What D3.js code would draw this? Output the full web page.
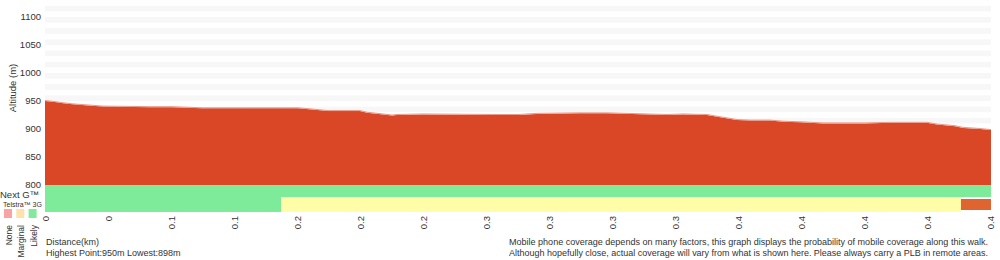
<!DOCTYPE html>
<html>
<head>
<meta charset="utf-8">
<script src="https://cdn.jsdelivr.net/npm/d3@7"></script>
<style>
body { margin: 0; background: #fff; }
svg { display: block; font-family: "Liberation Sans", Arial, sans-serif; }
text { fill: #333; }
</style>
</head>
<body>
<svg id="chart" width="1000" height="260"></svg>
<script>
// elevation profile, distance in km / altitude in m
var distKm = [0, 0.0048, 0.0086, 0.0133, 0.0205, 0.0276, 0.0499, 0.0604, 0.0747, 0.0942,
    0.1127, 0.1203, 0.1294, 0.1346, 0.1498, 0.1532, 0.1608, 0.1651, 0.1674, 0.1798,
    0.2126, 0.2250, 0.2340, 0.2545, 0.2673, 0.2959, 0.3035, 0.3149, 0.3211, 0.3292,
    0.3354, 0.3449, 0.3511, 0.3591, 0.3701, 0.3901, 0.4020, 0.4195, 0.4243, 0.4329,
    0.4367, 0.4448, 0.45];
var altM = [950, 948, 946, 944, 942, 940, 939, 939, 937, 937,
    937, 937, 934, 932, 932, 929, 926, 924, 925, 926,
    925, 925, 927, 928, 928, 925, 926, 925, 921, 916,
    915, 915, 913, 912, 910, 910, 911, 911, 908, 905,
    902, 900, 898];

var totalKm = 0.45;
var xTickLabels = ['0', '0', '0.1', '0.1', '0.2', '0.2', '0.2', '0.3', '0.3', '0.3', '0.3', '0.4', '0.4', '0.4', '0.4', '0.4'];
var yTicks = [800, 850, 900, 950, 1000, 1050, 1100];

// coverage rows: [from km, to km, level]
var nextG = [[0, 0.45, 'likely']];
var telstra3G = [[0, 0.1123, 'likely'], [0.1123, 0.4357, 'marginal'], [0.4357, 0.45, 'none']];

var levels = ['none', 'marginal', 'likely'];
var levelNames = ['None', 'Marginal', 'Likely'];
var barColor = { none: '#e0642f', marginal: '#fffda8', likely: '#7eeb9b' };
var legendColor = { none: '#f9a3a3', marginal: '#fde2ab', likely: '#83e99c' };

var notes = [
    'Mobile phone coverage depends on many factors, this graph displays the probability of mobile coverage along this walk.',
    'Although hopefully close, actual coverage will vary from what is shown here. Please always carry a PLB in remote areas.'
];

var svg = d3.select('#chart');

var x = d3.scaleLinear().domain([0, totalKm]).range([45, 991]);
var y = d3.scaleLinear().domain([800, 1100]).range([185, 17]);
var xt = d3.scalePoint().domain(d3.range(xTickLabels.length)).range([45, 990]);

// striped background
var stripes = d3.range(810, 1140, 20);
svg.append('g').selectAll('rect').data(stripes).enter().append('rect')
    .attr('x', x(0))
    .attr('width', x(totalKm) - x(0))
    .attr('y', function(v) { return Math.max(0, y(v + 10)); })
    .attr('height', function(v) { return y(v) - Math.max(0, y(v + 10)); })
    .attr('fill', '#f7f7f7');

var pts = distKm.map(function(d, i) { return [d, altM[i]]; });

svg.append('path').datum(pts)
    .attr('fill', '#d94727')
    .attr('d', d3.area()
        .x(function(d) { return x(d[0]); })
        .y0(y(800))
        .y1(function(d) { return y(d[1]); }));

svg.append('path').datum(pts)
    .attr('fill', 'none')
    .attr('stroke', '#e99a88')
    .attr('stroke-width', 1)
    .attr('d', d3.line()
        .x(function(d) { return x(d[0]); })
        .y(function(d) { return y(d[1]) - 0.5; }));

// coverage bars
function row(data, y0, y1) {
    svg.append('g').selectAll('rect').data(data).enter().append('rect')
        .attr('x', function(d) { return x(d[0]); })
        .attr('width', function(d) { return x(d[1]) - x(d[0]); })
        .attr('y', function(d) { return d[2] == 'none' ? y0 + 2 : y0; })
        .attr('height', function(d) { return d[2] == 'none' ? y1 - y0 - 4 : y1 - y0; })
        .attr('fill', function(d) { return barColor[d[2]]; });
}
row(nextG, 185, 197);
row(telstra3G, 197, 212);

// y axis
svg.append('g').selectAll('text').data(yTicks).enter().append('text')
    .attr('x', 41)
    .attr('y', function(v) { return y(v) + 3; })
    .attr('text-anchor', 'end')
    .attr('font-size', 9.5)
    .text(function(v) { return v; });

svg.append('text')
    .attr('transform', 'translate(16,88) rotate(-90)')
    .attr('text-anchor', 'middle')
    .attr('font-size', 9.5)
    .text('Altitude (m)');

// x axis labels
svg.append('g').selectAll('text').data(xTickLabels).enter().append('text')
    .attr('transform', function(d, i) { return 'translate(' + (xt(i) + 3.5) + ',216) rotate(-90)'; })
    .attr('text-anchor', 'end')
    .attr('font-size', 9.5)
    .text(function(d) { return d; });

// legend
svg.append('text').attr('x', 0).attr('y', 197.5).attr('font-size', 9.5).text('Next G\u2122');
svg.append('text').attr('x', 3).attr('y', 207).attr('font-size', 7).text('Telstra\u2122 3G');

var lg = svg.append('g').selectAll('g').data(levels).enter().append('g');
lg.append('rect')
    .attr('x', function(d, i) { return 4 + i * 12.3; })
    .attr('y', 209)
    .attr('width', 8)
    .attr('height', 9)
    .attr('fill', function(d) { return legendColor[d]; });
lg.append('text')
    .attr('transform', function(d, i) { return 'translate(' + (12 + i * 12.3) + ',225) rotate(-90)'; })
    .attr('text-anchor', 'end')
    .attr('font-size', 8.5)
    .text(function(d, i) { return levelNames[i]; });

// footer text
svg.append('text').attr('x', 46).attr('y', 245).attr('font-size', 9).text('Distance(km)');
svg.append('text').attr('x', 46).attr('y', 256).attr('font-size', 9)
    .text('Highest Point:' + d3.max(altM) + 'm Lowest:' + d3.min(altM) + 'm');

svg.append('g').selectAll('text').data(notes).enter().append('text')
    .attr('x', 509)
    .attr('y', function(d, i) { return 245 + i * 11; })
    .attr('font-size', 9)
    .attr('textLength', 479)
    .attr('lengthAdjust', 'spacingAndGlyphs')
    .text(function(d) { return d; });
</script>
</body>
</html>
